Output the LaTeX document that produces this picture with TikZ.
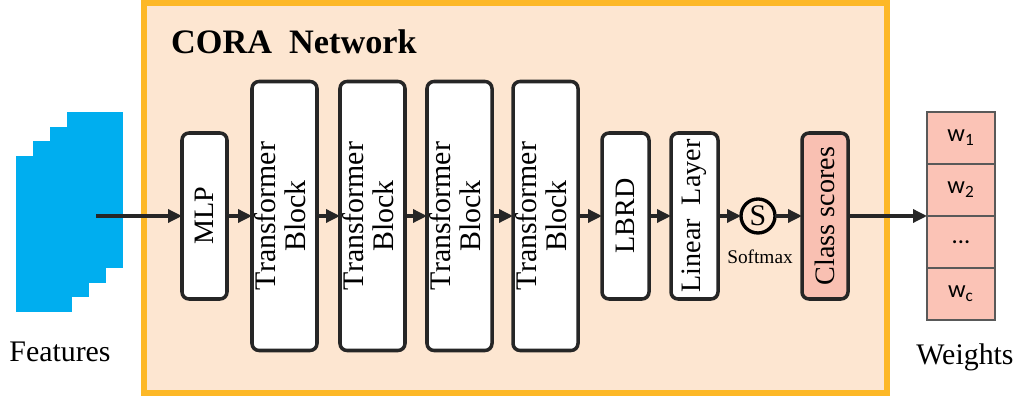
\documentclass[tikz,border=0pt]{standalone}
\usepackage{fontspec}
\setmainfont{Liberation Serif}
\newfontfamily\wfont{Carlito}
\usepackage{xcolor}
\usepackage{tikz}
\usetikzlibrary{shapes,arrows.meta,positioning,calc}

\definecolor{frameor}{HTML}{FDB827}
\definecolor{framebg}{HTML}{FDE6D1}
\definecolor{featblue}{HTML}{00AEEF}
\definecolor{scorebg}{HTML}{F9C0B2}
\definecolor{wbg}{HTML}{FBC3B6}
\definecolor{lineblk}{HTML}{262626}

\begin{document}
\begin{tikzpicture}[
    blk/.style={rectangle, draw=lineblk, fill=white, line width=2pt, rounded corners=4pt, align=center, inner sep=0pt, outer sep=0pt, font=\rmfamily\fontsize{16}{17}\selectfont},
    smallblk/.style={blk, minimum width=0.9cm, minimum height=3.32cm},
    tfblk/.style={blk, minimum width=1.3cm, minimum height=5.38cm, font=\rmfamily\fontsize{17}{17}\selectfont},
    wcell/.style={rectangle, draw=black!65, fill=wbg, line width=1.5pt, outer sep=0pt, minimum width=1.36cm, minimum height=1.04cm, font=\wfont\fontsize{14}{16}\selectfont},
    lbl/.style={font=\rmfamily\fontsize{17}{19}\selectfont},
    arr/.style={-{Triangle[length=0.28cm, width=0.26cm]}, line width=1.9pt, draw=lineblk}
]
    \useasboundingbox (0,0) rectangle (20.44,-7.98);

    % network frame
    \draw [draw=frameor, fill=framebg, line width=3pt] (2.88,-0.06) rectangle (17.74,-7.86);
    \node [anchor=west, font=\rmfamily\bfseries\fontsize{19.5}{21}\selectfont] (title) at (3.3,-0.84) {CORA\ \ Network};

    % feature stack
    \foreach \i in {3,2,1,0}
        \fill [featblue] ($(0.32,-6.24)+(0.34*\i,0.29*\i)$) rectangle ++(1.12,3.12);
    \coordinate (fsrc) at (1.92,-4.32);
    \node [lbl] (featlbl) at (1.2,-7.04) {Features};

    \node [smallblk] (mlp) at (4.09,-4.32) {\rotatebox{90}{MLP}};
    \node [tfblk, right=0.5cm of mlp] (tb1) {\rotatebox{90}{\begin{tabular}{@{}c@{}}Transformer\\Block\end{tabular}}};
    \node [tfblk, right=0.46cm of tb1] (tb2) {\rotatebox{90}{\begin{tabular}{@{}c@{}}Transformer\\Block\end{tabular}}};
    \node [tfblk, right=0.44cm of tb2] (tb3) {\rotatebox{90}{\begin{tabular}{@{}c@{}}Transformer\\Block\end{tabular}}};
    \node [tfblk, right=0.42cm of tb3] (tb4) {\rotatebox{90}{\begin{tabular}{@{}c@{}}Transformer\\Block\end{tabular}}};
    \node [smallblk, minimum width=0.94cm, right=0.48cm of tb4] (lbrd) {\rotatebox{90}{LBRD}};
    \node [smallblk, minimum width=0.94cm, right=0.44cm of lbrd] (lin) {\rotatebox{90}{Linear\ \ Layer}};
    \node [circle, draw=black, line width=1.9pt, minimum size=0.68cm, inner sep=0pt, outer sep=0pt, font=\rmfamily\fontsize{17}{18}\selectfont, right=0.46cm of lin] (sm) {S};
    \node [font=\rmfamily\fontsize{11}{12}\selectfont] (smlbl) at (15.2,-5.14) {Softmax};
    \node [smallblk, fill=scorebg, minimum width=0.92cm, right=0.54cm of sm] (cs) {\rotatebox{90}{Class scores}};

    % weights
    \node [wcell] (w1) at (19.22,-2.76) {w\textsubscript{1}};
    \node [wcell, below=0pt of w1] (w2) {w\textsubscript{2}};
    \node [wcell, below=0pt of w2] (w3) {...};
    \node [wcell, below=0pt of w3] (wc) {w\textsubscript{c}};
    \node [lbl] (wlbl) at (19.3,-7.14) {Weights};

    \draw [arr] (fsrc) -- (fsrc -| mlp.west);
    \draw [arr] (mlp) -- (tb1);
    \draw [arr] (tb1) -- (tb2);
    \draw [arr] (tb2) -- (tb3);
    \draw [arr] (tb3) -- (tb4);
    \draw [arr] (tb4) -- (lbrd);
    \draw [arr] (lbrd) -- (lin);
    \draw [arr] (lin) -- (sm);
    \draw [arr] (sm) -- (cs);
    \draw [arr] (cs.east) -- (cs.east -| w2.west);
\end{tikzpicture}
\end{document}
